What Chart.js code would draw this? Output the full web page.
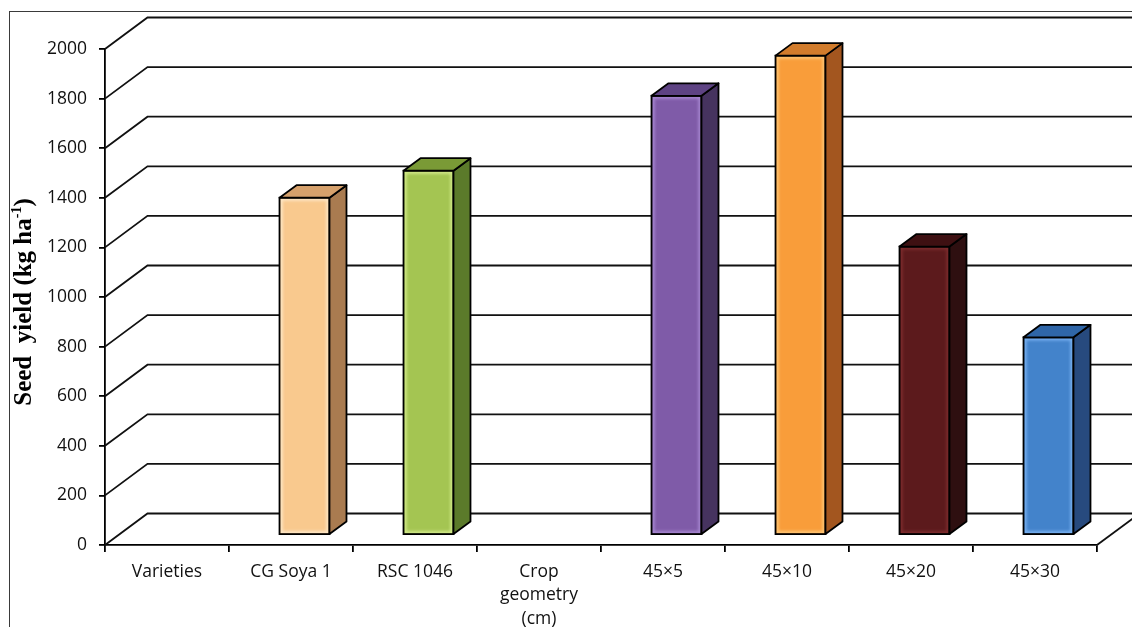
<!DOCTYPE html>
<html>
<head>
<meta charset="utf-8">
<style>
  html, body { margin: 0; padding: 0; background: #ffffff; }
  #wrap { width: 1132px; height: 627px; position: relative; }
</style>
<script src="https://cdn.jsdelivr.net/npm/chart.js@4/dist/chart.umd.min.js"></script>
</head>
<body>
<div id="wrap"><canvas id="chart" width="1132" height="627"></canvas></div>
<script>
// Seed yield by variety and crop geometry
const categories = ['Varieties', 'CG Soya 1', 'RSC 1046', ['Crop', 'geometry', '(cm)'], '45×5', '45×10', '45×20', '45×30'];
const seedYield = [null, 1360, 1469, null, 1771, 1933, 1163, 797];
const yTicks = [0, 200, 400, 600, 800, 1000, 1200, 1400, 1600, 1800, 2000];

const frontColors = [null, '#f9c98e', '#a4c552', null, '#7f5ba8', '#f99d3a', '#5c1a1c', '#4383cb'];
const topColors   = [null, '#d6a16c', '#7a9a36', null, '#5e4383', '#d27c2c', '#3e1012', '#2f66a8'];
const sideColors  = [null, '#a97b50', '#5b7a2a', null, '#46335f', '#a3561f', '#2e0f10', '#274a7e'];
const glowColors  = [null, '#fff3de', '#e4f7a0', null, '#b79ae0', '#ffd58e', '#8c3436', '#8fc3ff'];

// 3D projection offsets
const WALL = { dx: 42.5, dy: -31.5 };   // front plane -> back wall
const FACE = { dx: 13.5, dy: -10 };     // front plane -> bar front face
const SIDE = { dx: 17, dy: -12.5 };     // bar depth

const threeD = {
  id: 'threeD',
  beforeDraw(chart) {
    const ctx = chart.ctx;
    ctx.save();
    ctx.strokeStyle = '#3a3a3a';
    ctx.lineWidth = 1;
    ctx.strokeRect(9.5, 11.5, 1300, 800);
    ctx.restore();
  },
  beforeDatasetsDraw(chart) {
    const ctx = chart.ctx;
    const { left, right, bottom } = chart.chartArea;
    const y = chart.scales.y;
    ctx.save();
    ctx.strokeStyle = '#111';
    ctx.lineWidth = 1.8;
    ctx.lineJoin = 'miter';
    yTicks.forEach(v => {
      const py = y.getPixelForValue(v);
      ctx.beginPath();
      ctx.moveTo(left, py);
      ctx.lineTo(left + WALL.dx, py + WALL.dy);
      ctx.lineTo(chart.width + 10, py + WALL.dy);
      ctx.stroke();
    });
    // right edge of the floor
    ctx.beginPath();
    ctx.moveTo(right, bottom);
    ctx.lineTo(right + WALL.dx, bottom + WALL.dy);
    ctx.stroke();
    ctx.restore();
    // bar fronts are drawn by the library, pushed into the depth
    ctx.save();
    ctx.translate(FACE.dx, FACE.dy);
  },
  afterDatasetsDraw(chart) {
    const ctx = chart.ctx;
    ctx.restore();
    const meta = chart.getDatasetMeta(0);
    meta.data.forEach((el, i) => {
      if (seedYield[i] == null) return;
      const p = el.getProps(['x', 'y', 'base', 'width'], true);
      const x0 = p.x - p.width / 2 + FACE.dx;
      const x1 = p.x + p.width / 2 + FACE.dx;
      const yt = p.y + FACE.dy;
      const yb = p.base + FACE.dy;

      // soft inner glow on the front face
      ctx.save();
      ctx.beginPath();
      ctx.rect(x0 + 1, yt + 1, x1 - x0 - 2, yb - yt - 2);
      ctx.clip();
      ctx.filter = 'blur(1.5px)';
      ctx.strokeStyle = glowColors[i];
      ctx.globalAlpha = 0.75;
      ctx.lineWidth = 4;
      ctx.strokeRect(x0 + 1, yt + 1, x1 - x0 - 2, yb - yt - 2);
      ctx.restore();
      ctx.save();
      ctx.strokeStyle = '#000';
      ctx.lineWidth = 1.8;
      ctx.strokeRect(x0, yt, x1 - x0, yb - yt);
      ctx.restore();

      ctx.save();
      ctx.strokeStyle = '#000';
      ctx.lineWidth = 1.8;
      ctx.lineJoin = 'round';
      // side face
      ctx.beginPath();
      ctx.moveTo(x1, yt);
      ctx.lineTo(x1 + SIDE.dx, yt + SIDE.dy);
      ctx.lineTo(x1 + SIDE.dx, yb + SIDE.dy);
      ctx.lineTo(x1, yb);
      ctx.closePath();
      ctx.fillStyle = sideColors[i];
      ctx.fill();
      ctx.stroke();
      // top face
      ctx.beginPath();
      ctx.moveTo(x0, yt);
      ctx.lineTo(x0 + SIDE.dx, yt + SIDE.dy);
      ctx.lineTo(x1 + SIDE.dx, yt + SIDE.dy);
      ctx.lineTo(x1, yt);
      ctx.closePath();
      ctx.fillStyle = topColors[i];
      ctx.fill();
      ctx.stroke();
      ctx.restore();
    });
  },
  afterDraw(chart) {
    // rotated axis title with superscript
    const ctx = chart.ctx;
    ctx.save();
    ctx.translate(24, 302);
    ctx.rotate(-Math.PI / 2);
    ctx.fillStyle = '#000';
    ctx.textBaseline = 'alphabetic';
    const main = 'bold 25px "Liberation Serif", "Times New Roman", serif';
    const sup = 'bold 14px "Liberation Serif", "Times New Roman", serif';
    const a = 'Seed  yield (kg ha', b = '-1', c = ')';
    ctx.font = main; const wa = ctx.measureText(a).width; const wc = ctx.measureText(c).width;
    ctx.font = sup; const wb = ctx.measureText(b).width;
    let x = -(wa + wb + wc) / 2;
    const base = 7;
    ctx.font = main; ctx.fillText(a, x, base); x += wa;
    ctx.font = sup; ctx.fillText(b, x, base - 10); x += wb;
    ctx.font = main; ctx.fillText(c, x, base);
    ctx.restore();
  }
};

new Chart(document.getElementById('chart'), {
  type: 'bar',
  data: {
    labels: categories,
    datasets: [{
      data: seedYield,
      backgroundColor: frontColors,
      borderColor: '#000',
      borderWidth: 0,
      categoryPercentage: 1,
      barPercentage: 0.403
    }]
  },
  options: {
    responsive: false,
    animation: false,
    devicePixelRatio: 1,
    layout: { padding: { left: 0, top: 49, right: 35, bottom: 0 } },
    plugins: { legend: { display: false }, tooltip: { enabled: false } },
    datasets: { bar: { clip: false } },
    scales: {
      x: {
        afterFit(scale) { scale.height = 82; },
        grid: { display: true, drawOnChartArea: false, offset: true, color: '#000', tickLength: 7, lineWidth: 1.8 },
        border: { display: true, color: '#000', width: 1.8 },
        ticks: {
          color: '#111',
          autoSkip: false,
          maxRotation: 0,
          padding: 8,
          font: { family: '"Open Sans", sans-serif', size: 17.5, lineHeight: 1.35 }
        }
      },
      y: {
        min: 0,
        max: 2000,
        afterFit(scale) { scale.width = 105; },
        afterBuildTicks(scale) { scale.ticks = yTicks.map(v => ({ value: v })); },
        grid: { display: true, drawOnChartArea: false, color: '#000', tickLength: 6, lineWidth: 1.8 },
        border: { display: true, color: '#000', width: 1.8 },
        ticks: {
          color: '#111',
          padding: 12,
          callback: v => String(v),
          font: { family: '"Open Sans", sans-serif', size: 17.5 }
        }
      }
    }
  },
  plugins: [threeD]
});
</script>
</body>
</html>
